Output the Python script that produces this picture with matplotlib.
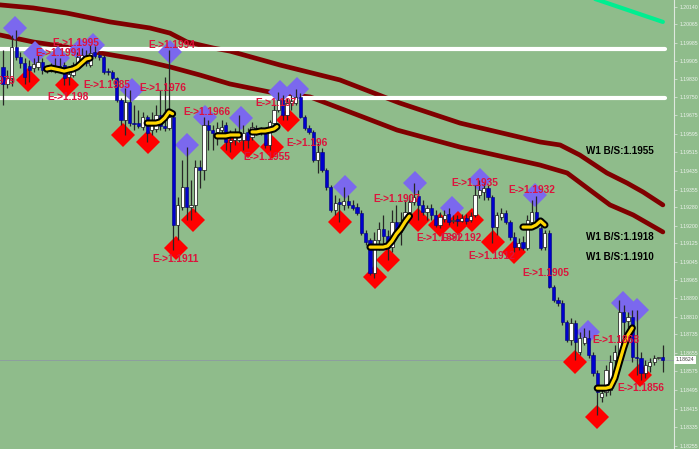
import matplotlib
matplotlib.use("Agg")
import matplotlib.pyplot as plt
import numpy as np

plt.rcParams['font.family'] = ['Liberation Sans', 'DejaVu Sans']

# ---------------- candle data (EURUSD style, 152 bars) ----------------
opens = [1.19881,1.19808,1.19833,1.19966,1.19923,1.19898,1.19885,1.19876,1.19881,1.19902,
         1.19872,1.19863,1.19863,1.19885,1.19889,1.19838,1.19846,1.19881,1.19898,1.19928,
         1.19889,1.19945,1.19932,1.19923,1.19863,1.19859,1.19833,1.19739,1.19653,1.19730,
         1.19640,1.19640,1.19623,1.19666,1.19610,1.19615,1.19675,1.19627,1.19619,1.19666,
         1.19203,1.19280,1.19366,1.19280,1.19289,1.19452,1.19439,1.19632,1.19610,1.19602,
         1.19610,1.19632,1.19559,1.19567,1.19567,1.19567,1.19602,1.19580,1.19619,1.19606,
         1.19597,1.19546,1.19640,1.19696,1.19739,1.19675,1.19726,1.19726,1.19752,1.19666,
         1.19619,1.19602,1.19482,1.19516,1.19439,1.19366,1.19267,1.19301,1.19289,1.19306,
         1.19289,1.19280,1.19254,1.19168,1.19138,1.18997,1.19138,1.19186,1.19156,1.19108,
         1.19216,1.19173,1.19216,1.19259,1.19301,1.19327,1.19289,1.19259,1.19276,1.19246,
         1.19203,1.19229,1.19250,1.19220,1.19229,1.19220,1.19233,1.19224,1.19246,1.19331,
         1.19344,1.19361,1.19323,1.19194,1.19237,1.19254,1.19216,1.19151,1.19108,1.19130,
         1.19104,1.19216,1.19259,1.19190,1.19108,1.19168,1.18937,1.18881,1.18868,1.18787,
         1.18709,1.18782,1.18658,1.18697,1.18718,1.18645,1.18568,1.18465,1.18486,1.18495,
         1.18624,1.18637,1.18830,1.18791,1.18808,1.18637,1.18632,1.18568,1.18598,1.18615,
         1.18632,1.18637]
highs = [1.19953,1.19868,1.20018,1.20039,1.19945,1.19919,1.19911,1.19919,1.19932,1.19919,
         1.19881,1.19898,1.19919,1.19919,1.19902,1.19876,1.19902,1.19945,1.19962,1.19953,
         1.19975,1.19971,1.19945,1.19932,1.19876,1.19868,1.19838,1.19748,1.19790,1.19782,
         1.19718,1.19696,1.19688,1.19675,1.19688,1.19718,1.19782,1.19838,1.19953,1.19675,
         1.19323,1.19482,1.19537,1.19396,1.19482,1.19482,1.19666,1.19653,1.19632,1.19645,
         1.19653,1.19645,1.19610,1.19619,1.19675,1.19632,1.19619,1.19645,1.19632,1.19623,
         1.19610,1.19653,1.19718,1.19773,1.19760,1.19748,1.19760,1.19786,1.19769,1.19675,
         1.19632,1.19610,1.19555,1.19533,1.19447,1.19374,1.19331,1.19319,1.19366,1.19331,
         1.19310,1.19297,1.19267,1.19181,1.19147,1.19173,1.19216,1.19246,1.19181,1.19267,
         1.19289,1.19259,1.19310,1.19331,1.19383,1.19353,1.19310,1.19289,1.19293,1.19267,
         1.19259,1.19267,1.19276,1.19246,1.19246,1.19250,1.19250,1.19259,1.19374,1.19396,
         1.19383,1.19374,1.19331,1.19259,1.19276,1.19267,1.19224,1.19173,1.19147,1.19156,
         1.19246,1.19310,1.19327,1.19198,1.19181,1.19181,1.18945,1.18894,1.18881,1.18795,
         1.18804,1.18795,1.18744,1.18761,1.18752,1.18658,1.18581,1.18516,1.18602,1.18645,
         1.18688,1.18881,1.18860,1.18830,1.18838,1.18838,1.18658,1.18624,1.18632,1.18645,
         1.18637,1.18688]
lows = [1.19718,1.19790,1.19799,1.19911,1.19876,1.19808,1.19816,1.19859,1.19868,1.19850,
        1.19855,1.19859,1.19855,1.19868,1.19803,1.19803,1.19838,1.19872,1.19889,1.19885,
        1.19881,1.19919,1.19911,1.19850,1.19846,1.19825,1.19730,1.19632,1.19589,1.19627,
        1.19610,1.19619,1.19610,1.19559,1.19589,1.19602,1.19610,1.19606,1.19610,1.19096,
        1.19138,1.19267,1.19224,1.19224,1.19259,1.19361,1.19396,1.19525,1.19525,1.19546,
        1.19576,1.19525,1.19516,1.19546,1.19559,1.19525,1.19533,1.19567,1.19589,1.19589,
        1.19533,1.19525,1.19632,1.19688,1.19653,1.19653,1.19696,1.19718,1.19662,1.19610,
        1.19593,1.19473,1.19426,1.19430,1.19353,1.19259,1.19246,1.19216,1.19267,1.19276,
        1.19267,1.19246,1.19160,1.19117,1.18988,1.18975,1.19096,1.19117,1.19053,1.19087,
        1.19160,1.19117,1.19203,1.19246,1.19289,1.19224,1.19246,1.19224,1.19224,1.19194,
        1.19190,1.19216,1.19203,1.19211,1.19198,1.19216,1.19207,1.19216,1.19237,1.19319,
        1.19310,1.19310,1.19126,1.19160,1.19224,1.19207,1.19138,1.19087,1.19096,1.19096,
        1.19096,1.19203,1.19198,1.19096,1.19096,1.18932,1.18872,1.18855,1.18774,1.18701,
        1.18688,1.18624,1.18645,1.18688,1.18632,1.18555,1.18388,1.18443,1.18469,1.18473,
        1.18602,1.18624,1.18731,1.18752,1.18615,1.18559,1.18538,1.18546,1.18572,1.18602,
        1.18628,1.18572]
closes = [1.19808,1.19833,1.19966,1.19923,1.19898,1.19838,1.19868,1.19893,1.19902,1.19868,
          1.19863,1.19872,1.19881,1.19876,1.19833,1.19850,1.19889,1.19923,1.19932,1.19898,
          1.19941,1.19928,1.19923,1.19859,1.19859,1.19833,1.19739,1.19653,1.19730,1.19640,
          1.19636,1.19627,1.19666,1.19597,1.19649,1.19675,1.19627,1.19619,1.19666,1.19203,
          1.19289,1.19366,1.19280,1.19289,1.19452,1.19439,1.19632,1.19610,1.19597,1.19619,
          1.19623,1.19559,1.19567,1.19580,1.19602,1.19597,1.19567,1.19623,1.19602,1.19610,
          1.19546,1.19645,1.19696,1.19739,1.19675,1.19726,1.19735,1.19752,1.19666,1.19619,
          1.19602,1.19482,1.19516,1.19439,1.19366,1.19267,1.19297,1.19293,1.19306,1.19289,
          1.19276,1.19254,1.19168,1.19130,1.18997,1.19138,1.19186,1.19156,1.19104,1.19216,
          1.19173,1.19216,1.19259,1.19301,1.19323,1.19289,1.19259,1.19276,1.19246,1.19203,
          1.19237,1.19246,1.19216,1.19224,1.19220,1.19233,1.19220,1.19241,1.19331,1.19353,
          1.19361,1.19323,1.19194,1.19246,1.19254,1.19216,1.19151,1.19108,1.19126,1.19104,
          1.19224,1.19259,1.19211,1.19104,1.19168,1.18937,1.18881,1.18868,1.18787,1.18709,
          1.18782,1.18701,1.18718,1.18722,1.18645,1.18568,1.18486,1.18482,1.18581,1.18615,
          1.18658,1.18830,1.18787,1.18808,1.18637,1.18632,1.18568,1.18602,1.18615,1.18632,
          1.18632,1.18624]

# ---------------- moving averages (higher timeframe) ----------------
ma_up_x = [-0.7, 6.9, 14.6, 24.5, 33.6, 38.2, 42.1, 48.1, 51.9, 63.4, 77.1, 90.8, 104.6,
           122.9, 127.5, 132.0, 138.2, 142.8, 146.5, 151.0]
ma_up_y = [1.20147, 1.20134, 1.20112, 1.20074, 1.20048, 1.20026, 1.19988, 1.19962, 1.19949,
           1.19889, 1.19825, 1.19726, 1.19640, 1.19559, 1.19546, 1.19503, 1.19426, 1.19383,
           1.19344, 1.19289]
ma_lo_x = [-0.7, 6.9, 14.6, 22.2, 31.4, 38.2, 45.1, 51.9, 61.1, 70.3, 82.4, 90.2, 104.6,
           122.9, 129.1, 134.3, 138.9, 144.2, 151.0]
ma_lo_y = [1.20018, 1.19988, 1.19966, 1.19941, 1.19911, 1.19881, 1.19846, 1.19808, 1.19773,
           1.19752, 1.19666, 1.19610, 1.19537, 1.19460, 1.19426, 1.19353, 1.19289, 1.19246,
           1.19173]

# horizontal white levels
white_levels = [1.19958, 1.19748]
# green trend line
green_x = [134.3, 151.0]
green_y = [1.20180, 1.20074]

# ---------------- signal arrows ----------------
sell_x = [2.7, 7.3, 12.6, 17.6, 20.6, 29.5, 38.2, 42.1, 46.2, 54.5, 63.4, 67.3, 78.3,
          94.3, 102.7, 109.2, 121.7, 133.9, 141.9, 145.1]
sell_y = [1.20048, 1.19941, 1.19919, 1.19953, 1.19975, 1.19782, 1.19945, 1.19546, 1.19666,
          1.19662, 1.19773, 1.19786, 1.19366, 1.19383, 1.19276, 1.19396, 1.19331, 1.18744,
          1.18868, 1.18838]
buy_x = [5.7, 14.6, 27.5, 33.2, 39.6, 43.5, 52.4, 56.1, 61.6, 65.2, 77.1, 85.1, 88.1,
         95.0, 100.0, 104.1, 107.3, 112.1, 116.9, 130.9, 135.9, 145.8]
buy_y = [1.19825, 1.19803, 1.19589, 1.19559, 1.19104, 1.19224, 1.19533, 1.19542, 1.19537,
         1.19653, 1.19216, 1.18980, 1.19053, 1.19224, 1.19203, 1.19211, 1.19224, 1.19130,
         1.19087, 1.18615, 1.18379, 1.18559]

# ---------------- yellow trail segments ----------------
yel1_x = [10, 11, 12, 13, 14, 15, 16, 17, 18, 19, 19.9]
yel1_y = [1.19872, 1.19876, 1.19872, 1.19868, 1.19863, 1.19868, 1.19872, 1.19881, 1.19898,
          1.19915, 1.19919]
yel2_x = [33, 34, 35, 36, 37, 38, 38.8]
yel2_y = [1.19640, 1.19640, 1.19640, 1.19645, 1.19662, 1.19688, 1.19680]
yel3_x = [49, 50, 51, 52, 53, 54]
yel3_y = [1.19585, 1.19585, 1.19585, 1.19589, 1.19589, 1.19589]
yel4_x = [57, 58, 59, 60, 61, 62, 62.7]
yel4_y = [1.19602, 1.19602, 1.19606, 1.19606, 1.19610, 1.19615, 1.19625]
yel5_x = [84, 85, 86, 87, 88, 89, 90, 91, 92, 93]
yel5_y = [1.19108, 1.19108, 1.19108, 1.19108, 1.19113, 1.19134, 1.19164, 1.19186, 1.19216,
          1.19241]
yel6_x = [119, 120, 121, 122, 123, 124]
yel6_y = [1.19194, 1.19194, 1.19194, 1.19203, 1.19220, 1.19203]
yel7_x = [136, 137, 138, 139, 140, 141, 142, 143, 144]
yel7_y = [1.18503, 1.18503, 1.18503, 1.18508, 1.18546, 1.18611, 1.18675, 1.18731, 1.18761]

# ---------------- text labels ----------------
e_labels = ["E->1.1979", "E->1.1991", "E->1.1995", "E->1.198", "E->1.1985", "E->1.1976",
            "E->1.1994", "E->1.1966", "E->1.197", "E->1.196", "E->1.1955", "E->1.1911",
            "E->1.1907", "E->1.1892", "E->1.192", "E->1.1935", "E->1.1932", "E->1.1912",
            "E->1.1905", "E->1.1868", "E->1.1856"]
e_x = [-8.0, 7.3, 11.2, 10.1, 18.3, 31.1, 33.2, 41.2, 57.7, 64.8, 54.9, 34.1,
       84.7, 94.5, 100.0, 102.7, 115.6, 106.6, 118.8, 134.8, 140.5]
e_y = [1.19821, 1.19941, 1.19984, 1.19752, 1.19803, 1.19790, 1.19975, 1.19688, 1.19726,
       1.19555, 1.19494, 1.19057, 1.19314, 1.19147, 1.19147, 1.19383, 1.19353, 1.19070,
       1.18997, 1.18709, 1.18503]
w1_labels = ["W1 B/S:1.1955", "W1 B/S:1.1918", "W1 B/S:1.1910"]
w1_x = [133.4, 133.4, 133.4]
w1_y = [1.19520, 1.19151, 1.19066]

last_price = 1.18624
tick_vals = [1.20140, 1.20065, 1.19985, 1.19905, 1.19830, 1.19750, 1.19675, 1.19595,
             1.19515, 1.19435, 1.19355, 1.19280, 1.19200, 1.19125, 1.19045, 1.18965,
             1.18890, 1.18810, 1.18735, 1.18655, 1.18575, 1.18495, 1.18415, 1.18335,
             1.18255]

# ---------------- drawing ----------------
BG = '#8FBC8B'
fig = plt.figure(figsize=(6.99, 4.49), dpi=100)
fig.patch.set_facecolor(BG)
ax = fig.add_axes([0, 0, 674 / 699, 1])
ax.set_facecolor(BG)
ax.set_xlim(-0.69, 153.55)
ax.set_ylim(1.18242, 1.20168)

# background structures
ax.axhline(last_price, color='#8d9f9f', lw=0.7, zorder=1)
ax.plot(ma_up_x, ma_up_y, color='#800000', lw=3.4, zorder=2, solid_capstyle='round')
ax.plot(ma_lo_x, ma_lo_y, color='#800000', lw=3.4, zorder=2, solid_capstyle='round')
for lv in white_levels:
    ax.plot([-0.7, 151.5], [lv, lv], color='white', lw=3.0, zorder=2, solid_capstyle='round')
ax.plot(green_x, green_y, color='#00EE90', lw=3.0, zorder=2, solid_capstyle='round')

# arrows
ax.plot(sell_x, sell_y, 'D', ms=12.3, color='#7B68EE', mew=0, zorder=3)
ax.plot(buy_x, buy_y, 'D', ms=12.3, color='#FF0000', mew=0, zorder=3)

# candles
o = np.array(opens); h = np.array(highs); l = np.array(lows); c = np.array(closes)
idx = np.arange(len(o))
up = c >= o
ax.vlines(idx, l, h, color='#262626', lw=0.9, zorder=4)
bot = np.minimum(o, c)
hgt = np.maximum(np.abs(c - o), 0.00003)
ax.bar(idx[up], hgt[up], bottom=bot[up], width=0.74, color='white',
       edgecolor='#111111', lw=0.5, zorder=5)
ax.bar(idx[~up], hgt[~up], bottom=bot[~up], width=0.74, color='#0000CD',
       edgecolor='#00007a', lw=0.4, zorder=5)

# yellow trails
for xs, ys in [(yel1_x, yel1_y), (yel2_x, yel2_y), (yel3_x, yel3_y), (yel4_x, yel4_y),
               (yel5_x, yel5_y), (yel6_x, yel6_y), (yel7_x, yel7_y)]:
    ax.plot(xs, ys, color='black', lw=5.2, zorder=6, solid_capstyle='round',
            solid_joinstyle='round')
    ax.plot(xs, ys, color='#FFD700', lw=2.3, zorder=7, solid_capstyle='round',
            solid_joinstyle='round')

# labels
for s, x, y in zip(e_labels, e_x, e_y):
    ax.text(x, y, s, color='#DC143C', fontsize=7.3, fontweight='bold',
            ha='left', va='center', zorder=8)
for s, x, y in zip(w1_labels, w1_x, w1_y):
    ax.text(x, y, s, color='black', fontsize=7.1, fontweight='bold',
            ha='left', va='center', zorder=8)

# price axis on the right
for sp in ['top', 'left', 'bottom']:
    ax.spines[sp].set_visible(False)
ax.spines['right'].set_color('#dfe8df')
ax.spines['right'].set_linewidth(0.8)
ax.set_xticks([])
ax.yaxis.tick_right()
ax.set_yticks(tick_vals)
ax.set_yticklabels([f'{v:.5f}' for v in tick_vals], fontsize=3.7, color='#eef3ee')
ax.tick_params(axis='y', length=2, width=0.5, color='#dfe8df', pad=2)
ax.text(1.002, last_price, f'{last_price:.5f}', transform=ax.get_yaxis_transform(),
        ha='left', va='center', fontsize=3.7, color='#404040', zorder=9,
        bbox=dict(boxstyle='square,pad=0.35', fc='white', ec='none'))

fig.savefig('out.png', dpi=100, facecolor=BG)
